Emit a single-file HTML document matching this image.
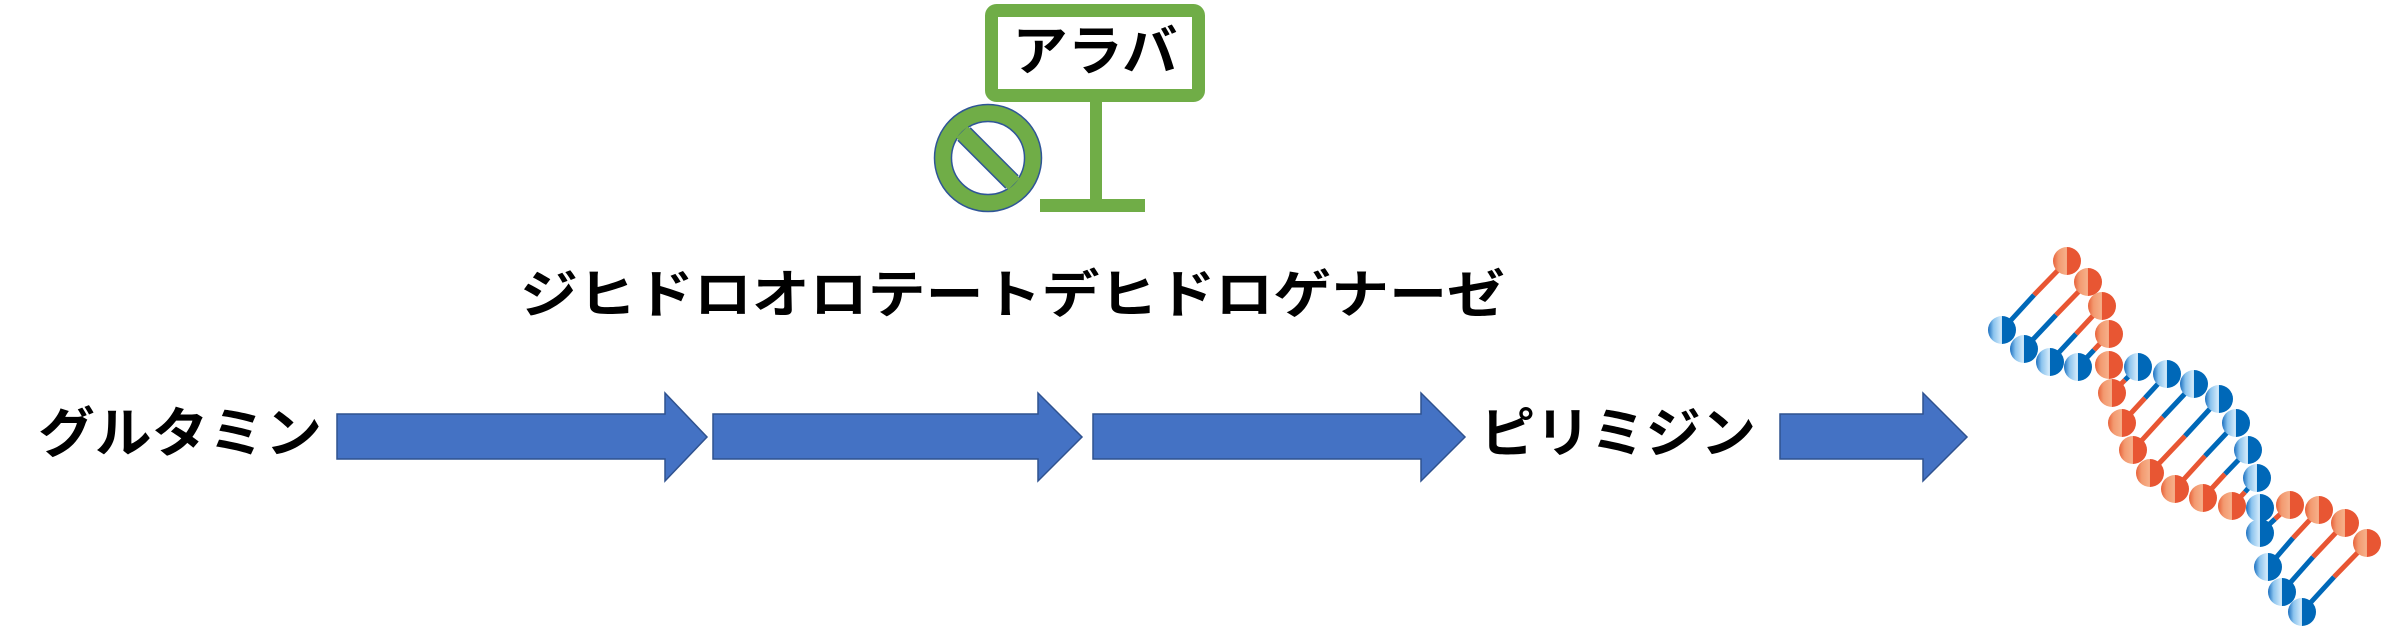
<!DOCTYPE html>
<html><head><meta charset="utf-8"><style>
html,body{margin:0;padding:0;background:#fff;}
svg{display:block;}
text{font-family:"Liberation Sans","Noto Sans CJK JP",sans-serif;font-weight:bold;fill:#000;}
</style></head><body>
<svg width="2381" height="626" viewBox="0 0 2381 626" xmlns="http://www.w3.org/2000/svg">
<defs>
<linearGradient id="gb" x1="0" x2="1" y1="0" y2="0">
<stop offset="0" stop-color="#1a6fc0"/><stop offset="0.2" stop-color="#8cc4ee"/><stop offset="0.49" stop-color="#d6ecfb"/><stop offset="0.5" stop-color="#0068b8"/><stop offset="1" stop-color="#0068b8"/>
</linearGradient>
<linearGradient id="go" x1="0" x2="1" y1="0" y2="0">
<stop offset="0" stop-color="#e8623a"/><stop offset="0.2" stop-color="#f39a70"/><stop offset="0.49" stop-color="#f6b08a"/><stop offset="0.5" stop-color="#e85633"/><stop offset="1" stop-color="#e85633"/>
</linearGradient>
</defs>
<!-- sign -->
<rect x="991.5" y="10.5" width="207" height="85" rx="5" fill="#fff" stroke="#70ad47" stroke-width="13"/>
<rect x="1090" y="102" width="12" height="100" fill="#70ad47"/>
<rect x="1040" y="199" width="105" height="13" fill="#70ad47"/>
<text x="1095" y="52" font-size="54" text-anchor="middle" dominant-baseline="central" textLength="165" lengthAdjust="spacingAndGlyphs">アラバ</text>
<!-- prohibit -->
<circle cx="988" cy="158" r="45" fill="none" stroke="#70ad47" stroke-width="17"/>
<circle cx="988" cy="158" r="53.5" fill="none" stroke="#2f5597" stroke-width="1.5"/>
<circle cx="988" cy="158" r="36.5" fill="none" stroke="#2f5597" stroke-width="1.5"/>
<line x1="964" y1="134" x2="1012" y2="182" stroke="#2f5597" stroke-width="19"/>
<line x1="962" y1="132" x2="1014" y2="184" stroke="#70ad47" stroke-width="16"/>
<!-- labels -->
<text x="520" y="296" font-size="52" dominant-baseline="central" textLength="985" lengthAdjust="spacingAndGlyphs">ジヒドロオロテートデヒドロゲナーゼ</text>
<text x="38" y="434" font-size="54" dominant-baseline="central" textLength="284" lengthAdjust="spacingAndGlyphs">グルタミン</text>
<text x="1480" y="434" font-size="54" dominant-baseline="central" textLength="276" lengthAdjust="spacingAndGlyphs">ピリミジン</text>
<!-- arrows -->
<g fill="#4472c4" stroke="#2f528f" stroke-width="1.5">
<polygon points="337,414 665,414 665,393 707,437 665,481 665,459 337,459"/>
<polygon points="713,414 1038,414 1038,393 1082,437 1038,481 1038,459 713,459"/>
<polygon points="1093,414 1421,414 1421,393 1465,437 1421,481 1421,459 1093,459"/>
<polygon points="1780,414 1923,414 1923,393 1967,437 1923,481 1923,459 1780,459"/>
</g>
<!-- DNA -->
<g stroke-width="5">
<line x1="2067" y1="261" x2="2034" y2="295" stroke="#e85633"/><line x1="2034" y1="295" x2="2002" y2="330" stroke="#0068b8"/>
<line x1="2088" y1="282" x2="2056" y2="315" stroke="#e85633"/><line x1="2056" y1="315" x2="2024" y2="349" stroke="#0068b8"/>
<line x1="2102" y1="306" x2="2076" y2="334" stroke="#e85633"/><line x1="2076" y1="334" x2="2050" y2="362" stroke="#0068b8"/>
<line x1="2109" y1="334" x2="2094" y2="350" stroke="#e85633"/><line x1="2094" y1="350" x2="2078" y2="367" stroke="#0068b8"/>
<line x1="2112" y1="393" x2="2125" y2="380" stroke="#e85633"/><line x1="2125" y1="380" x2="2138" y2="367" stroke="#0068b8"/>
<line x1="2122" y1="423" x2="2145" y2="398" stroke="#e85633"/><line x1="2145" y1="398" x2="2167" y2="374" stroke="#0068b8"/>
<line x1="2133" y1="450" x2="2163" y2="417" stroke="#e85633"/><line x1="2163" y1="417" x2="2194" y2="384" stroke="#0068b8"/>
<line x1="2150" y1="473" x2="2185" y2="436" stroke="#e85633"/><line x1="2185" y1="436" x2="2219" y2="399" stroke="#0068b8"/>
<line x1="2175" y1="489" x2="2205" y2="456" stroke="#e85633"/><line x1="2205" y1="456" x2="2236" y2="423" stroke="#0068b8"/>
<line x1="2203" y1="498" x2="2225" y2="474" stroke="#e85633"/><line x1="2225" y1="474" x2="2248" y2="450" stroke="#0068b8"/>
<line x1="2232" y1="506" x2="2245" y2="492" stroke="#e85633"/><line x1="2245" y1="492" x2="2257" y2="478" stroke="#0068b8"/>
<line x1="2290" y1="505" x2="2275" y2="519" stroke="#e85633"/><line x1="2275" y1="519" x2="2260" y2="533" stroke="#0068b8"/>
<line x1="2319" y1="510" x2="2293" y2="538" stroke="#e85633"/><line x1="2293" y1="538" x2="2268" y2="567" stroke="#0068b8"/>
<line x1="2345" y1="523" x2="2313" y2="557" stroke="#e85633"/><line x1="2313" y1="557" x2="2282" y2="592" stroke="#0068b8"/>
<line x1="2367" y1="543" x2="2334" y2="577" stroke="#e85633"/><line x1="2334" y1="577" x2="2302" y2="612" stroke="#0068b8"/>
</g>
<g fill="url(#go)">
<circle cx="2067" cy="261" r="14"/><circle cx="2088" cy="282" r="14"/><circle cx="2102" cy="306" r="14"/><circle cx="2109" cy="334" r="14"/>
<circle cx="2109" cy="365" r="14"/><circle cx="2112" cy="393" r="14"/><circle cx="2122" cy="423" r="14"/><circle cx="2133" cy="450" r="14"/>
<circle cx="2150" cy="473" r="14"/><circle cx="2175" cy="489" r="14"/><circle cx="2203" cy="498" r="14"/><circle cx="2232" cy="506" r="14"/>
<circle cx="2290" cy="505" r="14"/><circle cx="2319" cy="510" r="14"/><circle cx="2345" cy="523" r="14"/><circle cx="2367" cy="543" r="14"/>
</g>
<g fill="url(#gb)">
<circle cx="2002" cy="330" r="14"/><circle cx="2024" cy="349" r="14"/><circle cx="2050" cy="362" r="14"/><circle cx="2078" cy="367" r="14"/>
<circle cx="2138" cy="367" r="14"/><circle cx="2167" cy="374" r="14"/><circle cx="2194" cy="384" r="14"/><circle cx="2219" cy="399" r="14"/>
<circle cx="2236" cy="423" r="14"/><circle cx="2248" cy="450" r="14"/><circle cx="2257" cy="478" r="14"/><circle cx="2260" cy="508" r="14"/>
<circle cx="2260" cy="533" r="14"/><circle cx="2268" cy="567" r="14"/><circle cx="2282" cy="592" r="14"/><circle cx="2302" cy="612" r="14"/>
</g>
</svg>
</body></html>
